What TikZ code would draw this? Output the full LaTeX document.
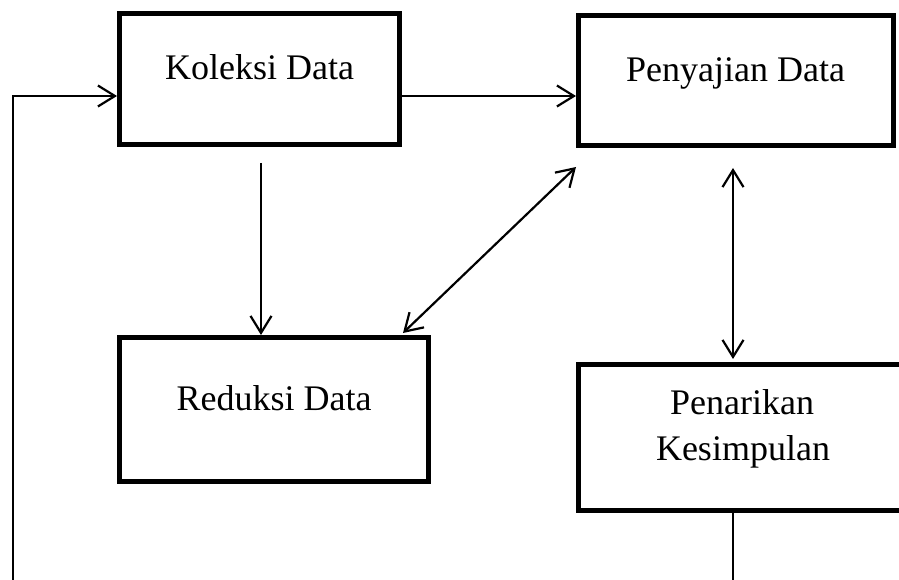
\documentclass[tikz,border=0pt]{standalone}
\usepackage{fontspec}
\setmainfont{Liberation Serif}
\usetikzlibrary{arrows.meta}
\begin{document}
\begin{tikzpicture}[x=1pt,y=-1pt,
  box/.style={draw, line width=5pt, rectangle, inner sep=0pt},
  lbl/.style={font=\fontsize{36}{44}\selectfont, inner sep=0pt, anchor=base},
  arr/.style={line width=2.2pt, -{Straight Barb[length=17pt,width=21pt]}},
  darr/.style={line width=2.2pt, {Straight Barb[length=17pt,width=21pt]}-{Straight Barb[length=17pt,width=21pt]}}]
\clip (0,0) rectangle (899,580);
\fill[white] (0,0) rectangle (899,580);
% boxes
\node[box, minimum width=280pt, minimum height=131pt] (kol) at (259.5,79) {};
\node[box, minimum width=315pt, minimum height=130pt] (pen) at (736,81) {};
\node[box, minimum width=309pt, minimum height=144pt] (red) at (274,409.5) {};
\node[box, minimum width=328.5pt, minimum height=146pt] (pk) at (742.75,437) {};
% texts
\node[lbl] (kolt) at (259.5,80) {Koleksi Data};
\node[lbl] (pent) at (735.5,82) {Penyajian Data};
\node[lbl] (redt) at (274,410.7) {Reduksi Data};
\node[lbl] (pkt1) at (742,414) {Penarikan};
\node[lbl] (pkt2) at (743,460.7) {Kesimpulan};
% coordinates
\coordinate (rowy) at (0,96);
\coordinate (c1) at (733,620);
\coordinate (c2) at (12.7,620);
\coordinate (c3) at (12.7,96);
\coordinate (kd) at (261,163);
\coordinate (d1) at (576,167);
\coordinate (d2) at (403,333);
\coordinate (v1) at (733,168);
\coordinate (v2) at (733,359);
% connectors
\draw[arr] (kol.east |- rowy) -- (pen.west |- rowy);
\draw[arr] (pk.south -| c1) -- (c1) -- (c2) -- (c3) -- (kol.west |- c3);
\draw[arr] (kd) -- (red.north -| kd);
\draw[darr] (d1) -- (d2);
\draw[darr] (v1) -- (v2);
\end{tikzpicture}
\end{document}
